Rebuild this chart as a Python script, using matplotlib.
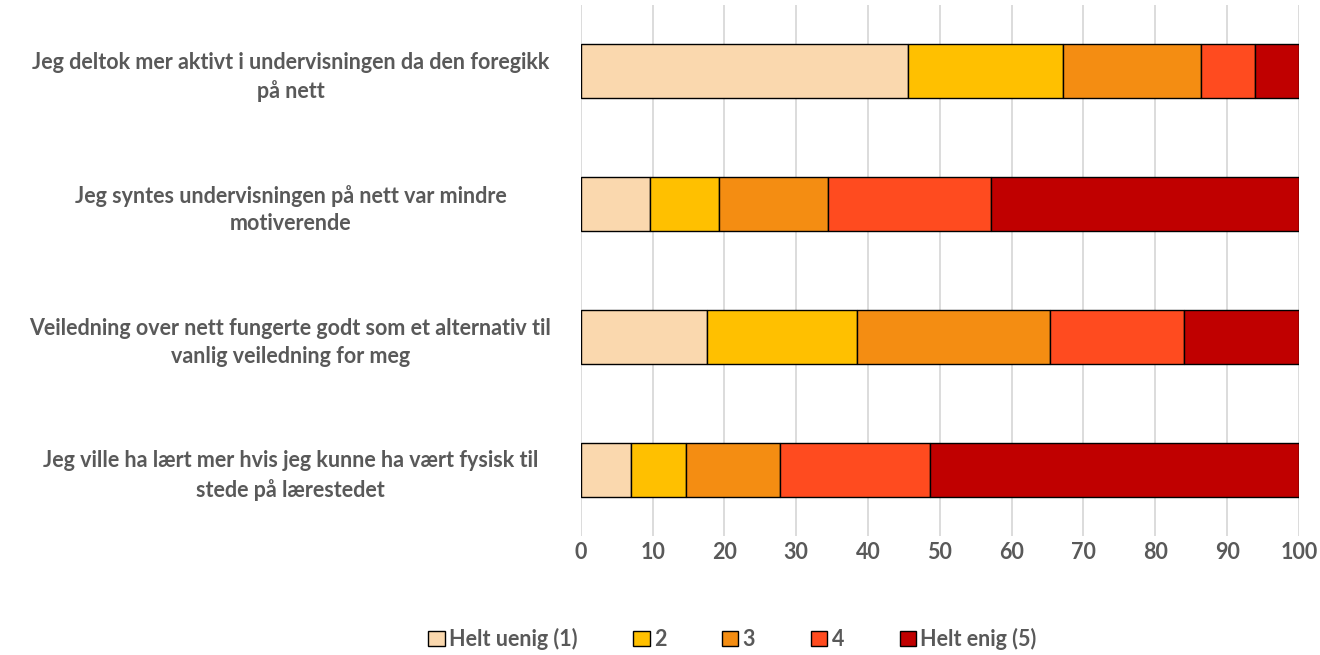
import matplotlib
matplotlib.use("Agg")
import matplotlib.pyplot as plt
import numpy as np

plt.rcParams["font.family"] = ["Lato", "DejaVu Sans"]

statements = [
    "Jeg deltok mer aktivt i undervisningen da den foregikk\npå nett",
    "Jeg syntes undervisningen på nett var mindre\nmotiverende",
    "Veiledning over nett fungerte godt som et alternativ til\nvanlig veiledning for meg",
    "Jeg ville ha lært mer hvis jeg kunne ha vært fysisk til\nstede på lærestedet",
]
levels = ["Helt uenig (1)", "2", "3", "4", "Helt enig (5)"]
colors = ["#FAD8AE", "#FFC000", "#F48D12", "#FF4B1F", "#C00000"]

# percentage share per level, one list per statement
pct_1 = [45.6, 9.6, 17.6, 7.0]
pct_2 = [21.5, 9.6, 20.9, 7.6]
pct_3 = [19.3, 15.2, 26.8, 13.2]
pct_4 = [7.5, 22.7, 18.7, 20.8]
pct_5 = [6.1, 42.9, 16.0, 51.4]
shares = np.array([pct_1, pct_2, pct_3, pct_4, pct_5])

grey = "#595959"
fs = 15.5

fig = plt.figure(figsize=(13.2, 6.55), dpi=100)
ax = fig.add_axes([0.440, 0.181, 0.544, 0.812])

y = np.arange(len(statements))[::-1]
left = np.zeros(len(statements))
for lvl, vals, col in zip(levels, shares, colors):
    ax.barh(y, vals, left=left, height=0.41, color=col, edgecolor="black",
            linewidth=1.0, label=lvl, zorder=3)
    left += vals

ax.set_xlim(0, 100)
ax.set_ylim(-0.5, len(statements) - 0.5)
ax.set_xticks(np.arange(0, 101, 10))
ax.set_yticks(y)
ax.set_yticklabels(statements, fontsize=fs, fontweight="bold", color=grey,
                   ha="center", linespacing=1.4)
ax.tick_params(axis="y", length=0, pad=209)
ax.tick_params(axis="x", length=0, pad=4, labelsize=fs, labelcolor=grey)
for lab in ax.get_xticklabels():
    lab.set_fontweight("bold")
ax.grid(axis="x", color="#D9D9D9", linewidth=1.3, zorder=0)
for s in ax.spines.values():
    s.set_visible(False)

leg = fig.legend(loc="lower center", bbox_to_anchor=(0.555, -0.022), ncol=5,
                 frameon=False, handlelength=0.75, handleheight=0.75,
                 handletextpad=0.2, columnspacing=2.6,
                 prop={"size": fs, "weight": "bold"})
for t in leg.get_texts():
    t.set_color(grey)

fig.savefig("out.png", dpi=100)
